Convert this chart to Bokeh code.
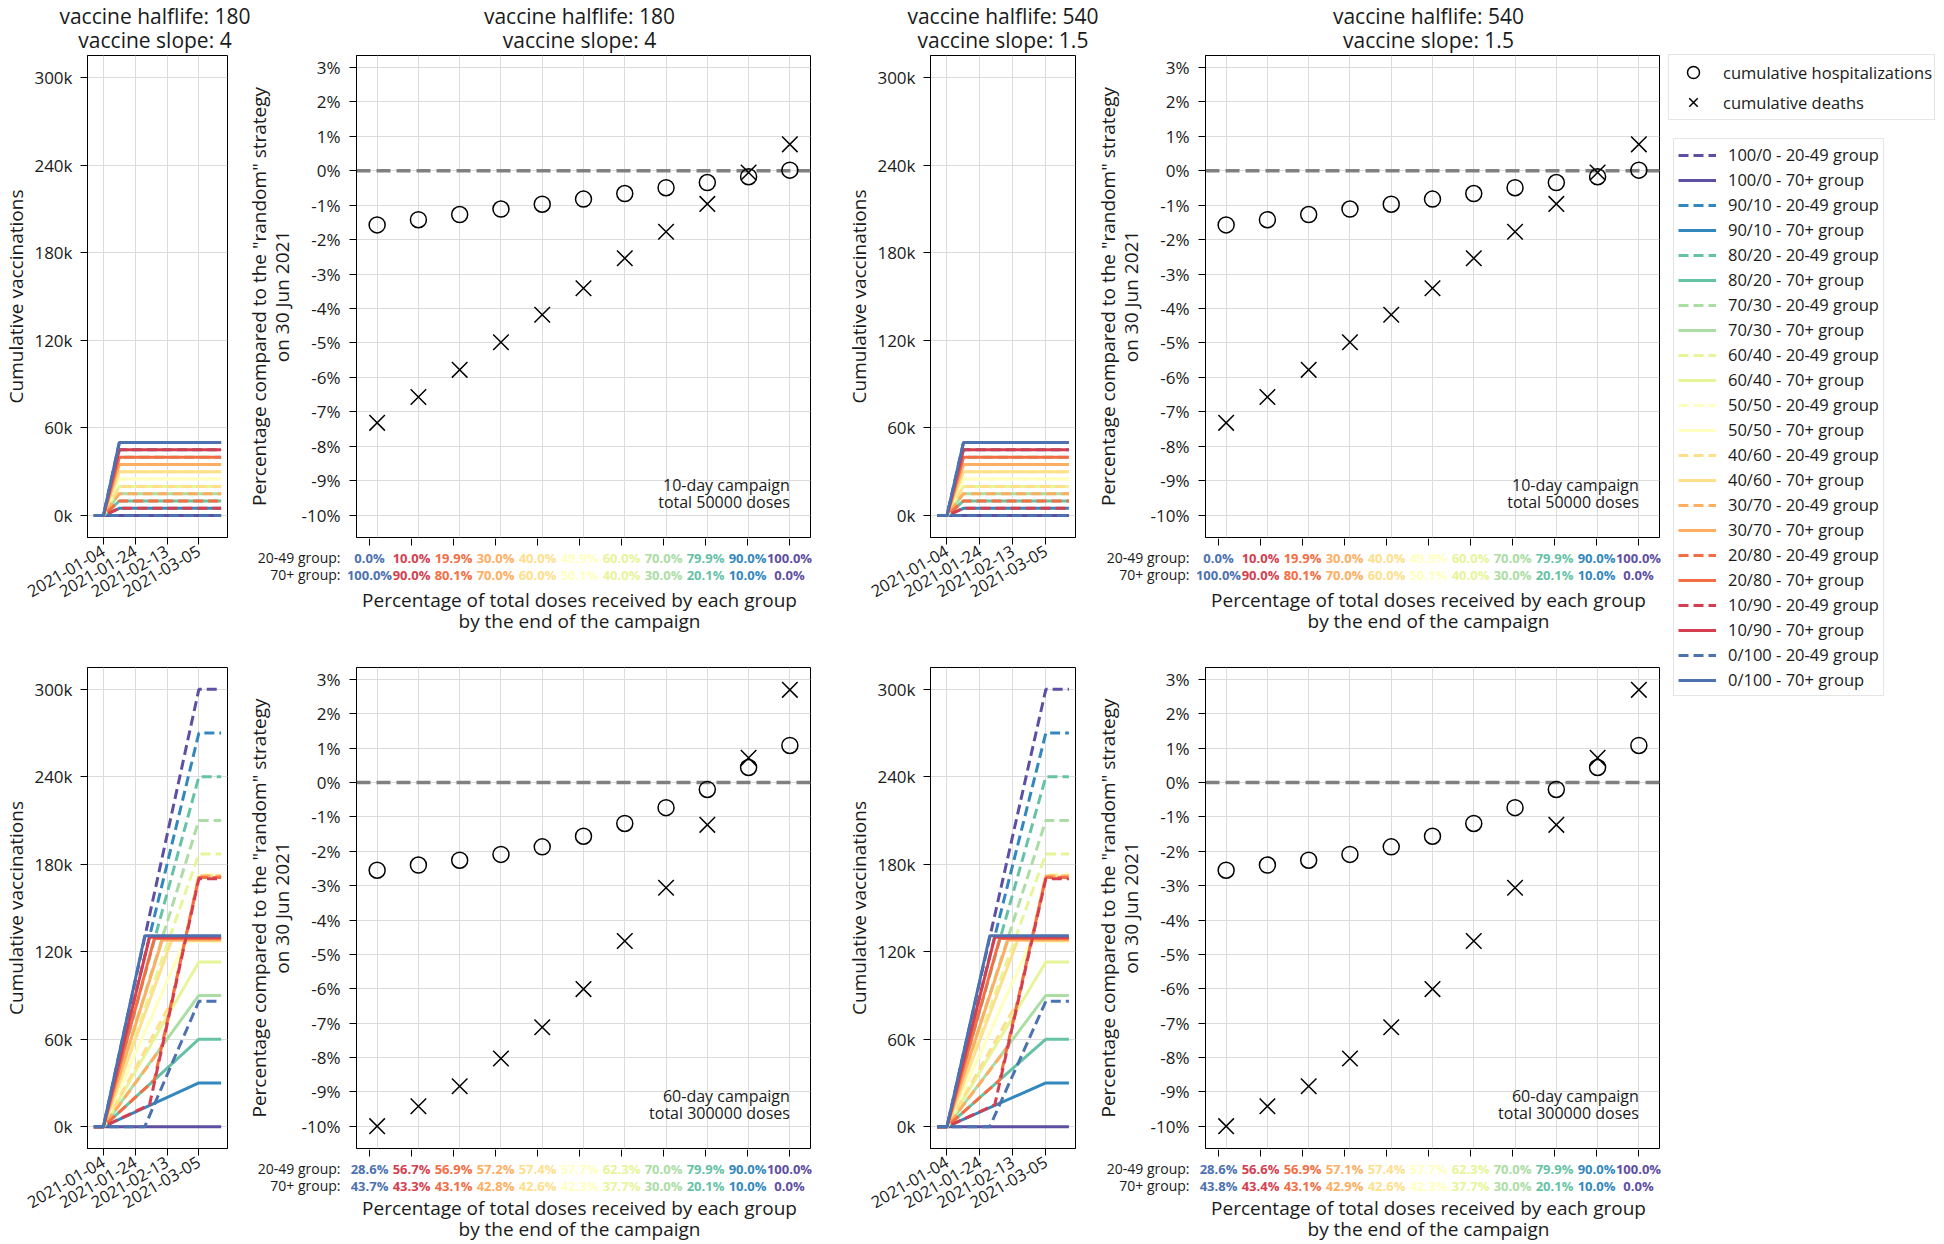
import math
import pandas as pd
from bokeh.plotting import figure
from bokeh.models import (Range1d, FixedTicker, Label, Span, Legend, LegendItem,
                          DatetimeTickFormatter, PrintfTickFormatter)
from bokeh.core.properties import value
from bokeh.layouts import row, column
from bokeh.embed import file_html
from bokeh.resources import INLINE

FONT = "Open Sans"
TXT = "#1a1a1a"

# ---------------------------------------------------------------- data
strategies = ["100/0", "90/10", "80/20", "70/30", "60/40", "50/50",
              "40/60", "30/70", "20/80", "10/90", "0/100"]
strategy_colors = ["#5e4fa2", "#3288bd", "#66c2a5", "#abdda4", "#e6f598", "#ffffbf",
                   "#fee08b", "#fdae61", "#f46d43", "#d53e4f", "#4c72b0"]
groups = ["20-49 group", "70+ group"]

campaign_start = "2021-01-04"
date_range = ["2020-12-25", "2021-03-23"]
date_ticks = ["2021-01-04", "2021-01-24", "2021-02-13", "2021-03-05"]
vacc_range = [-15, 315]
vacc_ticks = [0, 60, 120, 180, 240, 300]
vacc_tick_labels = ["0k", "60k", "120k", "180k", "240k", "300k"]
pct_range = [-10.65, 3.35]
pct_ticks = [-10, -9, -8, -7, -6, -5, -4, -3, -2, -1, 0, 1, 2, 3]
strategy_x = [0, 1, 2, 3, 4, 5, 6, 7, 8, 9, 10]
strategy_range = [-0.5, 10.5]

# cumulative vaccinations (thousands), breakpoints in days since campaign start
# 10-day campaign, 50000 doses
short_days = [-6, 0, 10, 74]
short_2049 = [[0, 0, 50, 50], [0, 0, 45, 45], [0, 0, 40, 40], [0, 0, 35, 35],
              [0, 0, 30, 30], [0, 0, 25, 25], [0, 0, 20, 20], [0, 0, 15, 15],
              [0, 0, 10, 10], [0, 0, 5, 5], [0, 0, 0, 0]]
short_70 = [[0, 0, 0, 0], [0, 0, 5, 5], [0, 0, 10, 10], [0, 0, 15, 15],
            [0, 0, 20, 20], [0, 0, 25, 25], [0, 0, 30, 30], [0, 0, 35, 35],
            [0, 0, 40, 40], [0, 0, 45, 45], [0, 0, 50, 50]]

# 60-day campaign, 300000 doses
long_2049_days = [[-6, 0, 60, 74], [-6, 0, 60, 74], [-6, 0, 60, 74], [-6, 0, 60, 74],
                  [-6, 0, 60, 74], [-6, 0, 51, 60, 74], [-6, 0, 43, 60, 74],
                  [-6, 0, 37, 60, 74], [-6, 0, 32, 60, 74], [-6, 0, 29, 60, 74],
                  [-6, 0, 26, 60, 74]]
long_2049 = [[0, 0, 300, 300], [0, 0, 270, 270], [0, 0, 240, 240], [0, 0, 210, 210],
             [0, 0, 187, 187], [0, 0, 127, 173, 173], [0, 0, 86, 172, 172],
             [0, 0, 55, 172, 172], [0, 0, 32, 171, 171], [0, 0, 15, 170, 170],
             [0, 0, 0, 86, 86]]
long_70_days = [[-6, 0, 60, 74], [-6, 0, 60, 74], [-6, 0, 60, 74], [-6, 0, 60, 74],
                [-6, 0, 60, 74], [-6, 0, 51, 74], [-6, 0, 43, 74], [-6, 0, 37, 74],
                [-6, 0, 32, 74], [-6, 0, 29, 74], [-6, 0, 26, 74]]
long_70 = [[0, 0, 0, 0], [0, 0, 30, 30], [0, 0, 60, 60], [0, 0, 90, 90],
           [0, 0, 113, 113], [0, 0, 127, 127], [0, 0, 128, 128], [0, 0, 128, 128],
           [0, 0, 129, 129], [0, 0, 130, 130], [0, 0, 131, 131]]

# outcome vs "random" strategy (%), x = strategy index (0/100 ... 100/0)
short_hosp = [-1.57, -1.42, -1.27, -1.11, -0.97, -0.82, -0.66, -0.49, -0.34, -0.17, 0.02]
short_death = [-7.32, -6.57, -5.78, -4.98, -4.18, -3.41, -2.54, -1.77, -0.96, -0.05, 0.77]
long_hosp = [-2.55, -2.40, -2.26, -2.09, -1.87, -1.56, -1.19, -0.73, -0.20, 0.44, 1.08]
long_death = [-10.0, -9.42, -8.84, -8.03, -7.12, -6.01, -4.61, -3.06, -1.23, 0.72, 2.70]

short_pct_2049 = ["0.0%", "10.0%", "19.9%", "30.0%", "40.0%", "49.9%", "60.0%",
                  "70.0%", "79.9%", "90.0%", "100.0%"]
short_pct_70 = ["100.0%", "90.0%", "80.1%", "70.0%", "60.0%", "50.1%", "40.0%",
                "30.0%", "20.1%", "10.0%", "0.0%"]
long_pct_2049_a = ["28.6%", "56.7%", "56.9%", "57.2%", "57.4%", "57.7%", "62.3%",
                   "70.0%", "79.9%", "90.0%", "100.0%"]
long_pct_70_a = ["43.7%", "43.3%", "43.1%", "42.8%", "42.6%", "42.3%", "37.7%",
                 "30.0%", "20.1%", "10.0%", "0.0%"]
long_pct_2049_b = ["28.6%", "56.6%", "56.9%", "57.1%", "57.4%", "57.7%", "62.3%",
                   "70.0%", "79.9%", "90.0%", "100.0%"]
long_pct_70_b = ["43.8%", "43.4%", "43.1%", "42.9%", "42.6%", "42.3%", "37.7%",
                 "30.0%", "20.1%", "10.0%", "0.0%"]

titles_a = ["vaccine halflife: 180", "vaccine slope: 4"]
titles_b = ["vaccine halflife: 540", "vaccine slope: 1.5"]
note_short = "10-day campaign\ntotal 50000 doses"
note_long = "60-day campaign\ntotal 300000 doses"
outcome_labels = ["cumulative hospitalizations", "cumulative deaths"]
xlabel = "Percentage of total doses received by each group\nby the end of the campaign"
ylabel_pct = 'Percentage compared to the "random" strategy\non 30 Jun 2021'
ylabel_vacc = "Cumulative vaccinations"

pct_colors = list(reversed(strategy_colors))

# ---------------------------------------------------------------- layout sizes
SMALL_W, BIG_W = 145, 462
A_B = (82, 16)       # left/right borders
B_B = (105, 20)
C_B = (100, 17)
D_B = (105, 5)
LEG_W = 278
TITLE_H = 54
TOP_FRAME, BOT_FRAME = 482, 481
TOP_H, BOT_H = 583, 605
TOP_SMALL = (1, 100)
BOT_TOP = 30
BOT_SMALL = (BOT_TOP, 94)

COMMON = dict(output_backend="svg", toolbar_location=None, frame_align=False)


def to_dates(days):
    return [pd.Timestamp(campaign_start) + pd.Timedelta(days=d) for d in days]


def style(p):
    for ax in p.axis:
        ax.major_label_text_font = FONT
        ax.major_label_text_font_size = "17px"
        ax.major_label_text_color = TXT
        ax.axis_label_text_font = FONT
        ax.axis_label_text_font_size = "19px"
        ax.axis_label_text_font_style = "normal"
        ax.axis_label_text_color = TXT
        ax.axis_label_text_line_height = 0.85
        ax.major_tick_in = 0
        ax.major_tick_out = 7
        ax.minor_tick_in = 0
        ax.minor_tick_out = 0
        ax.axis_line_color = "black"
        ax.major_tick_line_color = "black"
        ax.major_label_standoff = 8
        ax.axis_label_standoff = 2
    p.grid.grid_line_color = "#dcdcdc"
    p.grid.grid_line_width = 1
    p.outline_line_color = "black"
    p.outline_line_width = 1


def text_strip(width, height, x_range):
    s = figure(width=width, height=height, x_range=x_range,
               y_range=Range1d(0, height), min_border=0, x_axis_location=None,
               y_axis_location=None, **COMMON)
    s.grid.visible = False
    s.outline_line_color = None
    return s


def vacc_panel(borders, vb, height, days_2049, vals_2049, days_70, vals_70):
    p = figure(width=borders[0] + SMALL_W + borders[1], height=height,
               x_axis_type="datetime",
               x_range=Range1d(pd.Timestamp(date_range[0]), pd.Timestamp(date_range[1])),
               y_range=Range1d(*vacc_range), min_border_left=borders[0],
               min_border_right=borders[1], min_border_top=vb[0],
               min_border_bottom=vb[1], **COMMON)
    for k in range(len(strategies)):
        p.line(to_dates(days_2049[k]), vals_2049[k], line_color=strategy_colors[k],
               line_width=3, line_dash="10 5")
        p.line(to_dates(days_70[k]), vals_70[k], line_color=strategy_colors[k],
               line_width=3)
    style(p)
    xt = FixedTicker(ticks=[pd.Timestamp(d).value // 10**6 for d in date_ticks])
    p.xaxis.ticker = xt
    p.xgrid.ticker = xt
    fmt = "%Y-%m-%d"
    p.xaxis.formatter = DatetimeTickFormatter(days=fmt, months=fmt, years=fmt,
                                              hours=fmt, hourmin=fmt)
    p.xaxis.major_label_orientation = math.pi / 6
    p.xaxis.major_label_text_font_size = "16.5px"
    p.xaxis.major_label_standoff = 5
    yt = FixedTicker(ticks=vacc_ticks)
    p.yaxis.ticker = yt
    p.ygrid.ticker = yt
    p.yaxis.major_label_overrides = {t: l for t, l in zip(vacc_ticks, vacc_tick_labels)}
    p.yaxis.axis_label = ylabel_vacc
    return p


def effect_panel(borders, top, frame_h, hosp, death, note):
    p = figure(width=borders[0] + BIG_W + borders[1], height=top + frame_h + 1,
               x_range=Range1d(*strategy_range), y_range=Range1d(*pct_range),
               min_border_left=borders[0], min_border_right=borders[1],
               min_border_top=top, min_border_bottom=1, **COMMON)
    p.add_layout(Span(location=0, dimension="width", line_color="#808080",
                      line_width=3.5, line_dash="14 6", level="underlay"))
    p.scatter(strategy_x, hosp, marker="circle", size=16, fill_color=None,
              line_color="black", line_width=1.5)
    p.scatter(strategy_x, death, marker="x", size=22, line_color="black",
              line_width=1.5)
    style(p)
    xt = FixedTicker(ticks=strategy_x)
    p.xaxis.ticker = xt
    p.xgrid.ticker = xt
    p.xaxis.visible = False
    yt = FixedTicker(ticks=pct_ticks)
    p.yaxis.ticker = yt
    p.ygrid.ticker = yt
    p.yaxis.formatter = PrintfTickFormatter(format="%d%%")
    p.yaxis.axis_label = ylabel_pct
    p.yaxis.major_label_standoff = 9
    p.yaxis.axis_label_standoff = 4
    p.add_layout(Label(x=strategy_x[-1], y=-9.95, text=note, text_align="right",
                       text_baseline="bottom", text_font=FONT, text_font_size="16px",
                       text_color=TXT, text_line_height=0.8))
    return p


def tick_strip(borders, height, pct_a, pct_b, row_y, label_y):
    ppu = BIG_W / (strategy_range[1] - strategy_range[0])
    xr = Range1d(strategy_range[0] - borders[0] / ppu, strategy_range[1] + borders[1] / ppu)
    s = text_strip(borders[0] + BIG_W + borders[1], height, xr)
    # tick marks of the category axis
    s.segment(x0=strategy_x, y0=[height] * 11, x1=strategy_x, y1=[height - 7] * 11,
              line_color="black", line_width=1)
    for txts, yy in ((pct_a, row_y[0]), (pct_b, row_y[1])):
        s.text(x=strategy_x, y=[yy] * len(txts), text=txts, text_color=pct_colors,
               text_font=value(FONT), text_font_size="13px", text_font_style="bold",
               text_align="center", text_baseline="middle")
    s.text(x=[strategy_range[0]] * 2, y=list(row_y),
           text=[groups[0] + ":", groups[1] + ":"], x_offset=-8, text_color=TXT,
           text_font=value(FONT), text_font_size="14px", text_align="right",
           text_baseline="middle")
    s.text(x=[(strategy_range[0] + strategy_range[1]) / 2], y=[label_y], text=[xlabel],
           text_color=TXT, text_font=value(FONT), text_font_size="19px",
           text_align="center", text_baseline="middle", text_line_height=0.8)
    return s


# title strip
widths = [A_B[0] + SMALL_W + A_B[1], B_B[0] + BIG_W + B_B[1],
          C_B[0] + SMALL_W + C_B[1], D_B[0] + BIG_W + D_B[1]]
centers = [A_B[0] + SMALL_W / 2,
           widths[0] + B_B[0] + BIG_W / 2,
           widths[0] + widths[1] + C_B[0] + SMALL_W / 2,
           widths[0] + widths[1] + widths[2] + D_B[0] + BIG_W / 2]
total_w = sum(widths)
T = text_strip(total_w, TITLE_H, Range1d(0, total_w))
title_sets = [titles_a, titles_a, titles_b, titles_b]
for line_idx, yy in ((0, TITLE_H - 15), (1, TITLE_H - 39)):
    T.text(x=centers, y=[yy] * 4, text=[t[line_idx] for t in title_sets],
           text_color=TXT, text_font=value(FONT), text_font_size="21px",
           text_align="center", text_baseline="middle")

# top row
SB_H = TOP_H - (TOP_FRAME + 2)
A = vacc_panel(A_B, TOP_SMALL, TOP_H, [short_days] * 11, short_2049,
               [short_days] * 11, short_70)
B = effect_panel(B_B, 1, TOP_FRAME, short_hosp, short_death, note_short)
SB = tick_strip(B_B, SB_H, short_pct_2049, short_pct_70, (SB_H - 19, SB_H - 36), 27)
C = vacc_panel(C_B, TOP_SMALL, TOP_H, [short_days] * 11, short_2049,
               [short_days] * 11, short_70)
D = effect_panel(D_B, 1, TOP_FRAME, short_hosp, short_death, note_short)
SD = tick_strip(D_B, SB_H, short_pct_2049, short_pct_70, (SB_H - 19, SB_H - 36), 27)

# bottom row
SF_H = BOT_H - (BOT_TOP + BOT_FRAME + 1)
E = vacc_panel(A_B, BOT_SMALL, BOT_H, long_2049_days, long_2049, long_70_days, long_70)
F = effect_panel(B_B, BOT_TOP, BOT_FRAME, long_hosp, long_death, note_long)
SF = tick_strip(B_B, SF_H, long_pct_2049_a, long_pct_70_a, (SF_H - 19, SF_H - 36), 24)
G = vacc_panel(C_B, BOT_SMALL, BOT_H, long_2049_days, long_2049, long_70_days, long_70)
H = effect_panel(D_B, BOT_TOP, BOT_FRAME, long_hosp, long_death, note_long)
SH = tick_strip(D_B, SF_H, long_pct_2049_b, long_pct_70_b, (SF_H - 19, SF_H - 36), 24)

# legend panel
LH = TITLE_H + TOP_H + BOT_H
L = figure(width=LEG_W, height=LH, x_range=Range1d(0, 1), y_range=Range1d(0, 1),
           min_border=0, x_axis_location=None, y_axis_location=None, **COMMON)
L.grid.visible = False
L.outline_line_color = None
hx, hy = [5, 6], [5, 6]   # placeholder points outside the visible range
rh = L.scatter(hx, hy, marker="circle", size=16, fill_color=None, line_color="black",
               line_width=1.5)
rd = L.scatter(hx, hy, marker="x", size=22, line_color="black", line_width=1.5)
leg1 = Legend(items=[LegendItem(label=outcome_labels[0], renderers=[rh]),
                     LegendItem(label=outcome_labels[1], renderers=[rd])],
              location=(4, LH - 120), padding=2, spacing=0, glyph_height=30,
              label_height=22, glyph_width=44, label_standoff=8,
              label_text_font=FONT, label_text_font_size="16.5px",
              label_text_color=TXT, border_line_color="#cccccc",
              border_line_width=1, margin=0)
items = []
for k, s in enumerate(strategies):
    r1 = L.line(hx, hy, line_color=strategy_colors[k], line_width=3, line_dash="10 5")
    r2 = L.line(hx, hy, line_color=strategy_colors[k], line_width=3)
    items.append(LegendItem(label=f"{s} - {groups[0]}", renderers=[r1]))
    items.append(LegendItem(label=f"{s} - {groups[1]}", renderers=[r2]))
leg2 = Legend(items=items, location=(9, LH - 696), padding=4, spacing=2, glyph_height=22,
              label_height=22, glyph_width=38, label_standoff=12,
              label_text_font=FONT, label_text_font_size="16.5px",
              label_text_color=TXT, border_line_color="#cccccc",
              border_line_width=1, margin=0)
L.add_layout(leg1)
L.add_layout(leg2)

grid = column(T,
              row(A, column(B, SB), C, column(D, SD)),
              row(E, column(F, SF), G, column(H, SH)))
page = row(grid, L)

open("out.html", "w").write(file_html(page, INLINE))
